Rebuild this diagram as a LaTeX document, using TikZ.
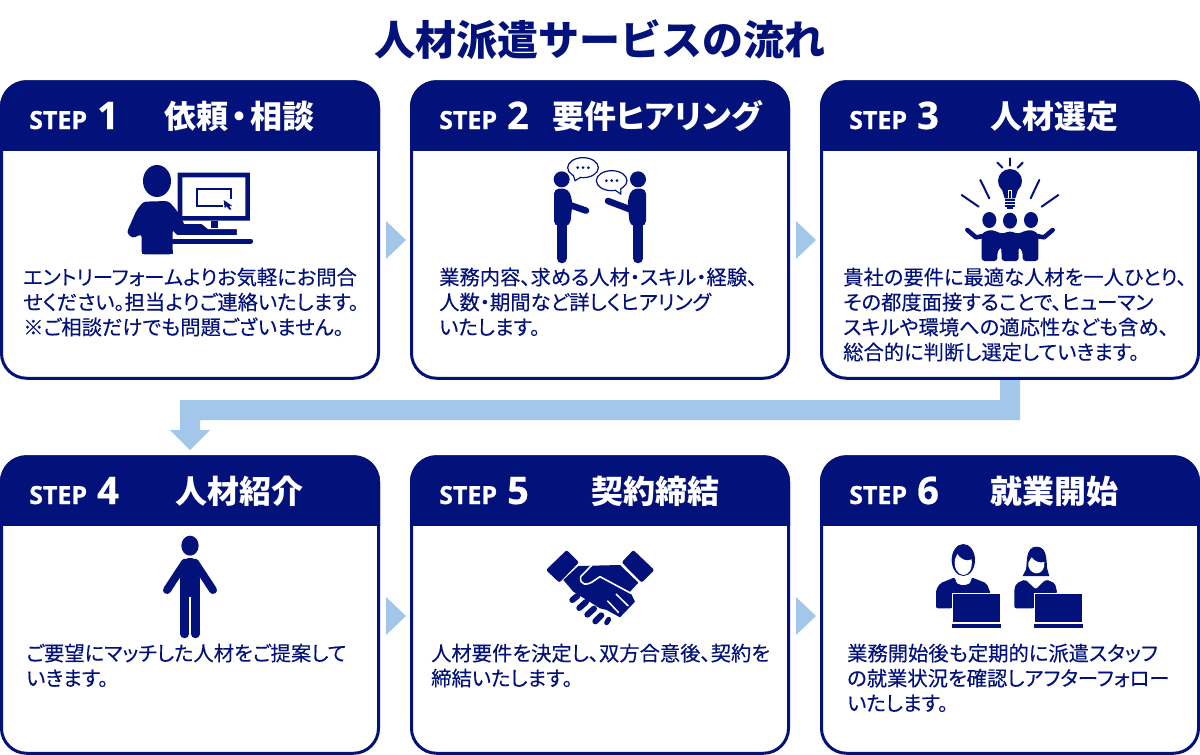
\documentclass[tikz,border=0pt]{standalone}
\usepackage{fontspec}
\usetikzlibrary{calc}
\setmainfont{Noto Sans CJK JP}
\newfontfamily\jpbody[FakeBold=0.25,RawFeature={+palt}]{Noto Sans CJK JP}
\newfontfamily\jphead[RawFeature={+palt}]{Noto Sans CJK JP}
\newfontfamily\stepfont[BoldFeatures={FakeBold=0.6}]{Open Sans}
\definecolor{navy}{HTML}{03117A}
\definecolor{flow}{HTML}{A3C7EA}
\tikzset{
 card/.style={draw=navy,fill=white,line width=3pt,rounded corners=25pt,minimum width=377pt,minimum height=296.5pt,inner sep=0pt,outer sep=0pt},
 headfill/.style={fill=navy,draw=navy,line width=3pt,rounded corners=25pt},
 steplabel/.style={text=white,anchor=base west,inner sep=0pt,font=\stepfont\bfseries\fontsize{25}{25}\selectfont},
 stepnum/.style={text=white,anchor=base west,inner sep=0pt,font=\stepfont\bfseries\fontsize{38}{38}\selectfont},
 headtitle/.style={text=white,anchor=center,inner sep=0pt,font=\jphead\bfseries\fontsize{32}{32}\selectfont},
 bodytext/.style={text=navy,anchor=north west,inner sep=0pt,align=left,font=\jpbody\fontsize{20.3}{25}\selectfont},
 maintitle/.style={text=navy,anchor=center,inner sep=0pt,font=\bfseries\fontsize{41}{41}\selectfont},
 flowfill/.style={fill=flow},
 ink/.style={fill=navy},
 limb/.style={draw=navy,line cap=round,line join=round},
 zoomed/.style={x=0.33333pt,y=-0.33333pt},
}
\newcommand{\cardat}[2]{%
 \node[card] (#1) at (#2) {};
 \begin{scope}
  \clip ($(#1.north west)+(-2,-2)$) rectangle ($(#1.north east)+(2,68.5)$);
  \path[headfill] (#1.north west) rectangle (#1.south east);
 \end{scope}
}
\begin{document}
\begin{tikzpicture}[x=1pt,y=-1pt]
\useasboundingbox (0,0) rectangle (1200,755);
\fill[white] (0,0) rectangle (1200,755);
\node[maintitle] (title) at (600,40) {人材派遣サービスの流れ};

\cardat{c1}{190,230}
\cardat{c2}{600,230}
\cardat{c3}{1010,230}
\cardat{c4}{190,605}
\cardat{c5}{600,605}
\cardat{c6}{1010,605}

% step labels
\node[steplabel] (s1) at (29,129) {STEP}; \node[stepnum] (n1) at (97,129) {1};
\node[steplabel] (s2) at (439,129) {STEP}; \node[stepnum] (n2) at (507,129) {2};
\node[steplabel] (s3) at (849,129) {STEP}; \node[stepnum] (n3) at (917,129) {3};
\node[steplabel] (s4) at (29,504) {STEP}; \node[stepnum] (n4) at (97,504) {4};
\node[steplabel] (s5) at (439,504) {STEP}; \node[stepnum] (n5) at (507,504) {5};
\node[steplabel] (s6) at (849,504) {STEP}; \node[stepnum] (n6) at (917,504) {6};

\node[headtitle] (t1) at (239,116) {依頼\hspace{3pt}・\hspace{3pt}相談};
\node[headtitle] (t2) at (657,116) {要件ヒアリング};
\node[headtitle] (t3) at (1054,116) {人材選定};
\node[headtitle] (t4) at (239.5,491) {人材紹介};
\node[headtitle] (t5) at (655.5,491) {契約締結};
\node[headtitle] (t6) at (1054,491) {就業開始};

% body
\node[bodytext] (b1) at (23,267.5) {エントリーフォームよりお気軽にお問合\\せください。担当よりご連絡いたします。\\※ご相談だけでも問題ございません。};
\node[bodytext] (b2) at (439,267.5) {業務内容、求める人材・スキル・経験、\\人数・期間など詳しくヒアリング\\いたします。};
\node[bodytext] (b3) at (843,267.5) {貴社の要件に最適な人材を一人ひとり、\\その都度面接することで、ヒューマン\\スキルや環境への適応性なども含め、\\総合的に判断し選定していきます。};
\node[bodytext] (b4) at (26,643.5) {ご要望にマッチした人材をご提案して\\いきます。};
\node[bodytext] (b5) at (431,643.5) {人材要件を決定し、双方合意後、契約を\\締結いたします。};
\node[bodytext] (b6) at (847,643.5) {業務開始後も定期的に派遣スタッフ\\の就業状況を確認しアフターフォロー\\いたします。};

% arrows
\fill[flowfill] (386,221) -- (406,240) -- (386,259) -- cycle;
\fill[flowfill] (796,221) -- (816,240) -- (796,259) -- cycle;
\fill[flowfill] (386,597) -- (406,616) -- (386,635) -- cycle;
\fill[flowfill] (796,597) -- (816,616) -- (796,635) -- cycle;
\fill[flowfill] (1000,380) -- (1020,380) -- (1020,420) -- (200,420) -- (200,430) -- (210,430) -- (190,450) -- (170,430) -- (180,430) -- (180,400) -- (1000,400) -- cycle;

% icon 1
\begin{scope}[shift={(0,70)},zoomed]
 \fill[ink,even odd rule] (533,308) rectangle (750,452) (547,322) rectangle (736,438);
 \fill[ink] (632,452) rectangle (655,480);
 \draw[navy,line width=2pt] (668,408) -- (590,408) -- (590,356) -- (692,356) -- (692,388);
 \fill[ink] (671,390) -- (697,408) -- (687,408) -- (695,418) -- (688,419) -- (680,409) -- (674,415) -- cycle;
 \fill[ink] (471,333) ellipse [x radius=42,y radius=48];
 \draw[white,line width=1pt,fill=navy,line join=round] (552,460) -- (605,460) -- (625,476) -- (712,476) -- (712,497) -- (530,497) -- (516,470) -- cycle;
 \fill[ink,rounded corners=3pt] (430,395) -- (505,393) -- (528,418) -- (555,465) -- (530,497) -- (518,478) -- (518,553) -- (425,553) -- (425,492) -- (398,505) -- (380,488) -- (410,420) -- cycle;
 \fill[ink] (425,540) rectangle (518,553);
 \draw[limb,line width=5pt] (520,513) -- (752,513);
\end{scope}

% icon 2
\begin{scope}[shift={(400,140)},zoomed]
 \fill[ink] (485,118) circle [radius=24];
 \fill[ink] (714,118) circle [radius=24];
 \fill[ink,rounded corners=5pt] (462,258) -- (462,146) -- (505,146) -- (518,185) -- (510,258) -- cycle;
 \fill[ink,rounded corners=5pt] (738,258) -- (738,146) -- (695,146) -- (682,185) -- (690,258) -- cycle;
 \draw[limb,line width=10pt] (485,250) -- (485,355);
 \draw[limb,line width=10pt] (714,250) -- (714,355);
 \draw[limb,line width=6.5pt] (510,195) -- (558,212);
 \draw[limb,line width=6.5pt] (690,208) -- (624,183);
 \draw[navy,line width=1.2pt,fill=white] (549,83) ellipse [x radius=46,y radius=30];
 \fill[white,draw=navy,line width=1.2pt] (520,105) -- (525,122) -- (542,112);
 \fill[white] (522,103) -- (527,117) -- (540,110) -- cycle;
 \draw[navy,line width=1.2pt,fill=white] (635,122) ellipse [x radius=46,y radius=30];
 \fill[white,draw=navy,line width=1.2pt] (645,150) -- (662,162) -- (662,145);
 \fill[white] (647,148) -- (660,157) -- (660,143) -- cycle;
 \foreach \d in {-16,0,16} {
  \fill[ink] (549+\d,83) circle [radius=4.5];
  \fill[ink] (635+\d,122) circle [radius=4.5];
 }
\end{scope}

% icon 3
\begin{scope}[shift={(900,150)},zoomed]
 \foreach \a/\b/\c/\d in {330/25/330/47, 292/38/307/53, 368/38/353/53, 241/90/268/145, 418/90/392/145, 185/135/236/170, 475/135/425/170}
  \draw[limb,line width=2pt] (\a,\b) -- (\c,\d);
 \fill[ink] (330,93) circle [radius=36];
 \fill[ink] (305,115) -- (355,115) -- (346,145) -- (314,145) -- cycle;
 \fill[white] (323,120) rectangle (337,145);
 \fill[ink] (326,122) rectangle (334,145);
 \foreach \yy in {148,157,166} \fill[ink] (315,\yy) rectangle (345,\yy+5);
 \fill[ink] (322,172) rectangle (338,177);
 \fill[ink] (268,210) ellipse [x radius=21,y radius=24];
 \fill[ink] (330,212) ellipse [x radius=21,y radius=24];
 \fill[ink] (393,210) ellipse [x radius=21,y radius=24];
 \draw[limb,line width=4.5pt] (202,240) -- (228,262) -- (250,258);
 \draw[limb,line width=4.5pt] (458,240) -- (432,262) -- (410,258);
 \fill[ink,rounded corners=3pt] (245,333) -- (245,250) -- (270,239) -- (292,245) -- (305,252) -- (330,243) -- (355,252) -- (368,245) -- (392,239) -- (415,250) -- (415,333) -- (368,333) -- (368,305) -- (356,290) -- (356,333) -- (305,333) -- (304,290) -- (292,305) -- (292,333) -- cycle;
\end{scope}

% icon 4
\begin{scope}[shift={(120,380)},zoomed]
 \fill[ink] (210,497) ellipse [x radius=26,y radius=30];
 \fill[ink,rounded corners=5pt] (180,600) -- (180,548) -- (195,534) -- (225,534) -- (240,548) -- (240,600) -- cycle;
 \draw[limb,line width=8.5pt] (194,600) -- (194,762);
 \draw[limb,line width=8.5pt] (226,600) -- (226,762);
 \draw[limb,line width=8pt] (195,548) -- (141,630);
 \draw[limb,line width=8pt] (225,548) -- (279,630);
 \fill[ink] (180,590) rectangle (240,652);
\end{scope}

% icon 5
\begin{scope}[shift={(520,530)},zoomed]
 \fill[ink,rounded corners=2pt] (140,60) -- (177,97) -- (118,158) -- (78,120) -- cycle;
 \fill[ink,rounded corners=2pt] (340,60) -- (403,120) -- (365,158) -- (305,97) -- cycle;
 \fill[ink] (130,150) -- (175,108) -- (300,105) -- (355,158) -- (330,185) -- (345,215) -- (300,262) -- (260,240) -- (240,235) -- (160,185) -- cycle;
 \draw[white,line width=1.6pt,line join=round,line cap=round] (216,105) -- (182,140) .. controls (178,165) and (200,170) .. (225,150) -- (240,140) -- (333,190);
 \draw[white,line width=1.5pt] (262,212) -- (296,248) (288,192) -- (325,228);
 \draw[limb,line width=6pt] (157,210) -- (172,198);
 \draw[limb,line width=6pt] (178,234) -- (198,216);
 \draw[limb,line width=6pt] (202,254) -- (222,236);
 \draw[limb,line width=6pt] (226,274) -- (244,256);
 \draw[limb,line width=5pt] (260,278) -- (266,268);
\end{scope}

% icon 6
\begin{scope}[shift={(920,530)},zoomed]
 \fill[ink] (130,90) ellipse [x radius=35,y radius=48];
 \fill[white] (112,72) .. controls (125,90) and (140,95) .. (155,88) .. controls (158,120) and (145,135) .. (130,135) .. controls (115,135) and (100,115) .. (105,88) -- cycle;
 \fill[ink,rounded corners=2pt] (48,235) -- (48,180) -- (60,160) -- (105,142) .. controls (108,160) and (115,165) .. (130,165) .. controls (145,165) and (152,160) .. (155,142) -- (200,160) -- (212,190) -- (97,190) -- (97,235) -- cycle;
 \draw[white,line width=0.8pt,fill=navy] (97,190) rectangle (242,277);
 \fill[ink] (96,282) rectangle (243,295);
 \fill[ink] (308,138) -- (318,118) .. controls (322,100) and (315,50) .. (350,50) .. controls (385,50) and (378,100) .. (382,118) -- (388,138) -- cycle;
 \fill[white] (335,82) .. controls (345,95) and (360,100) .. (373,96) .. controls (375,115) and (365,130) .. (350,130) .. controls (335,130) and (322,115) .. (325,98) -- cycle;
 \fill[ink,rounded corners=2pt] (283,235) -- (283,175) -- (290,160) -- (315,148) -- (347,178) -- (378,148) -- (405,160) -- (412,190) -- (343,190) -- (343,235) -- cycle;
 \draw[white,line width=0.8pt,fill=navy] (343,190) rectangle (487,277);
 \fill[ink] (341,282) rectangle (488,295);
\end{scope}
\end{tikzpicture}
\end{document}
